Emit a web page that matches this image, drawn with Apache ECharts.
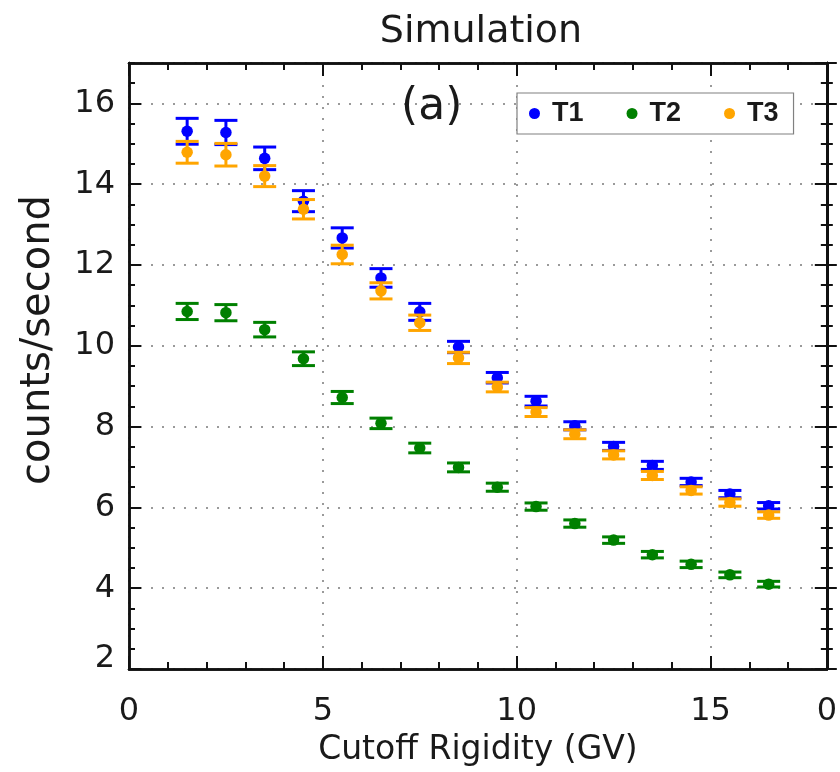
<!DOCTYPE html>
<html>
<head>
<meta charset="utf-8">
<script src="https://cdn.jsdelivr.net/npm/echarts@6/dist/echarts.min.js"></script>
<style>html,body{margin:0;padding:0;background:#fff}#c{width:840px;height:772px}</style>
</head>
<body>
<div id="c"></div>
<script>
// ---- data ----
const rigidity = [1.5, 2.5, 3.5, 4.5, 5.5, 6.5, 7.5, 8.5, 9.5, 10.5, 11.5, 12.5, 13.5, 14.5, 15.5, 16.5];
const t1 = [15.31, 15.28, 14.64, 13.58, 12.67, 11.68, 10.84, 9.97, 9.21, 8.63, 8.02, 7.51, 7.04, 6.63, 6.33, 6.04];
const t1Err = [0.32, 0.30, 0.28, 0.26, 0.25, 0.23, 0.21, 0.14, 0.13, 0.12, 0.10, 0.10, 0.10, 0.09, 0.09, 0.08];
const t2 = [10.85, 10.82, 10.40, 9.68, 8.72, 8.08, 7.47, 6.99, 6.50, 6.02, 5.60, 5.19, 4.83, 4.59, 4.33, 4.10];
const t2Err = [0.20, 0.20, 0.18, 0.17, 0.15, 0.13, 0.12, 0.11, 0.10, 0.09, 0.09, 0.08, 0.08, 0.08, 0.07, 0.07];
const t3 = [14.79, 14.73, 14.20, 13.38, 12.26, 11.36, 10.57, 9.70, 8.98, 8.36, 7.81, 7.30, 6.79, 6.42, 6.12, 5.81];
const t3Err = [0.27, 0.28, 0.26, 0.24, 0.23, 0.20, 0.19, 0.14, 0.12, 0.11, 0.11, 0.10, 0.10, 0.09, 0.09, 0.08];
const seriesNames = ['T1', 'T2', 'T3'];
const xTickLabels = { 0: '0', 5: '5', 10: '10', 15: '15', 18: '0' };
const titleText = 'Simulation';
const panelText = '(a)';
const xName = 'Cutoff Rigidity (GV)';
const yName = 'counts/second';

// ---- styling ----
const colors = ['#0000ff', '#008000', '#ffa500'];
const FONT = 'DejaVu Sans';
const LEGEND_FONT = "'Liberation Sans Narrow', 'Liberation Sans', sans-serif";
const axisColor = '#111';
const textColor = '#1a1a1a';

function errSeries(name, color, vals, errs, z) {
  return {
    type: 'custom',
    name: name + ' err',
    z: z,
    silent: true,
    data: rigidity.map((x, i) => [x, vals[i] - errs[i], vals[i] + errs[i]]),
    encode: { x: 0, y: [1, 2] },
    renderItem: function (params, api) {
      const x = api.value(0);
      const lo = api.coord([x, api.value(1)]);
      const hi = api.coord([x, api.value(2)]);
      const hw = 11.5;
      const style = { stroke: color, lineWidth: 3 };
      return {
        type: 'group',
        children: [
          { type: 'line', shape: { x1: lo[0], y1: lo[1], x2: hi[0], y2: hi[1] }, style: style },
          { type: 'line', shape: { x1: lo[0] - hw, y1: lo[1], x2: lo[0] + hw, y2: lo[1] }, style: style },
          { type: 'line', shape: { x1: hi[0] - hw, y1: hi[1], x2: hi[0] + hw, y2: hi[1] }, style: style }
        ]
      };
    }
  };
}
function pointSeries(name, color, vals, z) {
  return {
    type: 'scatter',
    name: name,
    z: z,
    symbol: 'circle',
    symbolSize: 11.5,
    itemStyle: { color: color, opacity: 1 },
    data: rigidity.map((x, i) => [x, vals[i]])
  };
}

const allVals = [t1, t2, t3];
const allErrs = [t1Err, t2Err, t3Err];
const series = [];
seriesNames.forEach((n, k) => {
  series.push(errSeries(n, colors[k], allVals[k], allErrs[k], 3 + 2 * k));
  series.push(pointSeries(n, colors[k], allVals[k], 4 + 2 * k));
});

const lineStyle = { color: axisColor, width: 2.5 };
const gridDots = { color: '#9a9a9a', width: 2, type: [2, 9] };

function xAx(pos, interval, tickLen, extra) {
  return Object.assign({
    type: 'value', position: pos, min: 0, max: 18, interval: interval,
    axisLine: { show: true, onZero: false, lineStyle: lineStyle },
    axisTick: { show: true, inside: true, length: tickLen, lineStyle: { color: axisColor, width: 2 } },
    axisLabel: { show: false },
    splitLine: { show: false }
  }, extra || {});
}
function yAx(pos, interval, tickLen, inside, extra) {
  return Object.assign({
    type: 'value', position: pos, min: 2, max: 17, interval: interval,
    axisLine: { show: true, onZero: false, lineStyle: lineStyle },
    axisTick: { show: true, inside: inside, length: tickLen, lineStyle: { color: axisColor, width: 2 } },
    axisLabel: { show: false },
    splitLine: { show: false }
  }, extra || {});
}

const option = {
  animation: false,
  backgroundColor: '#ffffff',
  textStyle: { fontFamily: FONT },
  title: {
    text: titleText,
    left: 476, top: 8, textAlign: 'center',
    textStyle: { fontFamily: FONT, fontSize: 38, fontWeight: 'normal', color: textColor }
  },
  legend: {
    data: seriesNames,
    left: 517, top: 93,
    orient: 'horizontal',
    icon: 'circle',
    itemWidth: 25, itemHeight: 11,
    symbolKeepAspect: true,
    itemGap: 43,
    padding: [7, 15, 7, 12],
    borderColor: '#808080', borderWidth: 1.2,
    backgroundColor: '#fff',
    textStyle: { fontFamily: LEGEND_FONT, fontSize: 27, fontWeight: 'bold', color: textColor }
  },
  grid: { left: 129, top: 63, width: 698, height: 609, containLabel: false },
  xAxis: [
    xAx('bottom', 5, 13, {
      name: xName, nameLocation: 'middle', nameGap: 65,
      nameTextStyle: { fontFamily: FONT, fontSize: 33, color: textColor },
      axisLabel: {
        show: true, margin: 27, fontSize: 32, color: textColor, fontFamily: FONT,
        formatter: v => (xTickLabels[v] !== undefined ? xTickLabels[v] : '')
      },
      splitLine: { show: true, lineStyle: gridDots }
    }),
    xAx('bottom', 1, 7),
    xAx('top', 5, 13),
    xAx('top', 1, 7)
  ],
  yAxis: [
    yAx('left', 2, 12, true, {
      name: yName, nameLocation: 'middle', nameGap: 70,
      nameTextStyle: { fontFamily: FONT, fontSize: 40, color: textColor, padding: [0, 0, 0, 52] },
      axisLabel: {
        show: true, margin: 14, fontSize: 32, color: textColor, fontFamily: FONT,
        showMaxLabel: false,
        formatter: v => (v === 2 ? '{low|2}' : String(v)),
        rich: { low: { fontSize: 32, fontFamily: FONT, color: textColor, padding: [0, 0, 20, 0] } }
      },
      splitLine: { show: true, lineStyle: gridDots }
    }),
    yAx('left', 0.5, 6, true),
    yAx('right', 2, 12, true),
    yAx('right', 0.5, 6, true),
    yAx('right', 2, 10, false),
    yAx('right', 0.5, 6, false)
  ],
  graphic: [
    {
      type: 'text', left: 401, top: 86, z: 100,
      style: { text: panelText, fontFamily: FONT, fontSize: 44, fill: textColor }
    }
  ],
  series: series
};

const chart = echarts.init(document.getElementById('c'), null, { renderer: 'canvas' });
chart.setOption(option);
</script>
</body>
</html>
